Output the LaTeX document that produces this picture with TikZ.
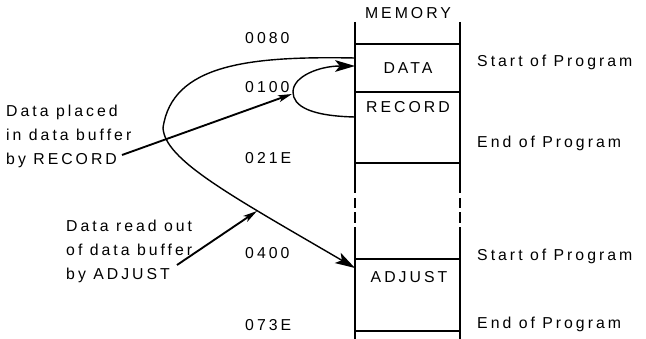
\documentclass[tikz,border=0pt]{standalone}
\usepackage{fontspec}
\setmainfont{Liberation Sans}[LetterSpace=19]
\usetikzlibrary{arrows.meta}

\begin{document}
\begin{tikzpicture}[x=0.03cm,y=-0.03cm,
  lbl/.style={font=\fontsize{13.5}{20.5}\selectfont,inner sep=0pt},
  memline/.style={line width=1.1pt},
  flow/.style={line width=1.2pt,-{Stealth[length=17pt,width=10pt,inset=4pt]}},
  ptr/.style={line width=1.6pt,-{Stealth[length=12pt,width=6pt,inset=3pt]}}]
  \useasboundingbox (0,0) rectangle (646,339);

  \draw[memline] (355,22) -- (355,193) (355,227) -- (355,339);
  \draw[memline] (460,22) -- (460,193) (460,227) -- (460,339);
  \draw[memline] (355,198) -- (355,208) (355,212) -- (355,223);
  \draw[memline] (460,198) -- (460,208) (460,212) -- (460,223);
  \foreach \y in {44,92,163,259,331}
    \draw[memline] (355,\y) -- (460,\y);

  \node[lbl] (memory) at (408,13) {MEMORY};
  \node[lbl] (data) at (408,68) {DATA};
  \node[lbl] (record) at (408,107) {RECORD};
  \node[lbl] (adjust) at (409,277) {ADJUST};

  \node[lbl,anchor=west] (a0080) at (245,38) {0080};
  \node[lbl,anchor=west] (a0100) at (245,87) {0100};
  \node[lbl,anchor=west] (a021E) at (245,158) {021E};
  \node[lbl,anchor=west] (a0400) at (245,253) {0400};
  \node[lbl,anchor=west] (a073E) at (245,325) {073E};

  \node[lbl,anchor=west] (startA) at (477,62) {Start of Program};
  \node[lbl,anchor=west] (endA) at (477,143) {End of Program};
  \node[lbl,anchor=west] (startB) at (477,256) {Start of Program};
  \node[lbl,anchor=west] (endB) at (477,324) {End of Program};

  \node[lbl,anchor=west,align=left] (placed) at (6,136) {Data placed\\in data buffer\\by RECORD};
  \node[lbl,anchor=west,align=left] (readout) at (66,251) {Data read out\\of data buffer\\by ADJUST};

  \coordinate (dataOut) at (355,58);
  \coordinate (dataIn) at (355,66);
  \coordinate (recOut) at (355,117);
  \coordinate (adjIn) at (355,268);
  \coordinate (loopTip) at (292,94);
  \coordinate (curveTip) at (257,211);
  \coordinate (placedEnd) at (122,155);
  \coordinate (readoutEnd) at (177,265);

  \draw[flow] (recOut) .. controls (310,116) and (293,106) .. (293,92)
    .. controls (293,76) and (320,66) .. (dataIn);
  \draw[flow] (dataOut) .. controls (250,56) and (172,64) .. (163,128)
    .. controls (165,160) and (230,195) .. (adjIn);
  \draw[ptr] (placedEnd) -- (loopTip);
  \draw[ptr] (readoutEnd) -- (curveTip);
\end{tikzpicture}
\end{document}
